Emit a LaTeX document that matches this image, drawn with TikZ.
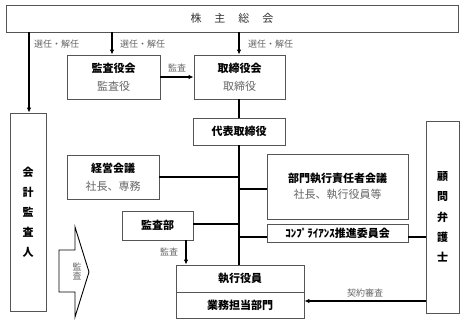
\documentclass[tikz,border=0pt]{standalone}
\usepackage{fontspec}
\newfontfamily\jp{Noto Sans CJK JP}
\usetikzlibrary{arrows.meta}
\definecolor{bordergray}{HTML}{555555}
\definecolor{subgray}{HTML}{666666}
\begin{document}
\begin{tikzpicture}[x=1pt,y=-1pt,
  box/.style={draw=bordergray,line width=0.8pt,fill=white,inner sep=0pt,align=center,
    font=\jp\fontsize{11}{18}\selectfont},
  conn/.style={line width=1.1pt,black},
  arr/.style={conn,-{Latex[length=5pt,width=4.5pt]}},
  lbl/.style={text=subgray,font=\jp\fontsize{9}{10}\selectfont,inner sep=0pt},
  sub/.style={text=subgray}]
\useasboundingbox (0,0) rectangle (465,323);
% nodes
\node[box,minimum width=452,minimum height=27,text=black!80] (sh) at (232,18.5)
  {株\hspace{13pt}主\hspace{13pt}総\hspace{13pt}会};
\node[box,minimum width=36,minimum height=198,font=\jp\bfseries\fontsize{11}{20}\selectfont] (kaikei) at (28,212)
  {会\\計\\監\\査\\人};
\node[box,minimum width=93,minimum height=44] (kyk) at (113.5,77)
  {\textbf{監査役会}\\{\color{subgray}監査役}};
\node[box,minimum width=91,minimum height=44] (trk) at (239.5,77)
  {\textbf{取締役会}\\{\color{subgray}取締役}};
\node[box,minimum width=92,minimum height=27,font=\jp\bfseries\fontsize{11}{18}\selectfont] (dh) at (239,131.5)
  {代表取締役};
\node[box,minimum width=92,minimum height=44] (kei) at (113,177)
  {\textbf{経営会議}\\{\color{subgray}社長、専務}};
\node[box,minimum width=141,minimum height=65,font=\jp\fontsize{11}{16}\selectfont] (bm) at (337.5,186.5)
  {\textbf{部門執行責任者会議}\\{\color{subgray}社長、執行役員等}};
\node[box,minimum width=141,minimum height=18,font=\jp\bfseries\fontsize{11}{18}\selectfont] (cp) at (337.5,233)
  {ｺﾝﾌﾟﾗｲｱﾝｽ推進委員会};
\node[box,minimum width=71,minimum height=29,font=\jp\bfseries\fontsize{11}{18}\selectfont] (kb) at (157.5,225.5)
  {監査部};
\node[box,minimum width=128,minimum height=27,font=\jp\bfseries\fontsize{11}{18}\selectfont] (sk) at (240,278.5)
  {執行役員};
\node[box,minimum width=128,minimum height=26,font=\jp\bfseries\fontsize{11}{18}\selectfont] (gm) at (240,305)
  {業務担当部門};
\node[box,minimum width=33,minimum height=192,font=\jp\bfseries\fontsize{11}{20.3}\selectfont] (km) at (442.5,217)
  {顧\\問\\弁\\護\\士};
% block arrow
\draw[line width=0.9pt,black,fill=white] (59,250) -- (75,250) -- (75,227) -- (89,272) -- (75,317) -- (75,292) -- (59,292) -- cycle;
\node[lbl,align=center,font=\jp\fontsize{9}{9.5}\selectfont] (bkansa) at (77,271.5) {監\\査};
% top arrows
\draw[arr] (sh.south -| 29,0) -- (kaikei.north -| 29,0);
\draw[arr] (sh.south -| 112,0) -- (kyk.north -| 112,0);
\draw[arr] (sh.south -| 239,0) -- (trk.north -| 239,0);
\node[lbl,anchor=west] (l1) at (34,44) {選任・解任};
\node[lbl,anchor=west] (l2) at (120,44) {選任・解任};
\node[lbl,anchor=west] (l3) at (248,44) {選任・解任};
\draw[arr] (kyk.east) -- (trk.west);
\node[lbl] (l4) at (177,68) {監査};
% trunk
\draw[conn] (trk.south -| 239,0) -- (dh.north -| 239,0);
\draw[conn] (dh.south -| 239,0) -- (sk.north -| 239,0);
\draw[conn] (kei.east) -- (239,177);
\draw[conn] (239,189) -- (bm.west |- 0,189);
\draw[conn] (kb.east |- 0,224) -- (239,224);
\draw[conn] (239,237) -- (cp.west |- 0,237);
\draw[conn] (cp.east |- 0,237) -- (km.west |- 0,237);
% audit arrow
\draw[arr] (kb.south -| 186,0) -- (sk.north -| 186,0);
\node[lbl] (l5) at (169,252) {監査};
% contract review
\draw[arr] (km.west |- 0,301) -- (gm.east |- 0,301);
\node[lbl] (l6) at (365,293) {契約審査};
\end{tikzpicture}
\end{document}
